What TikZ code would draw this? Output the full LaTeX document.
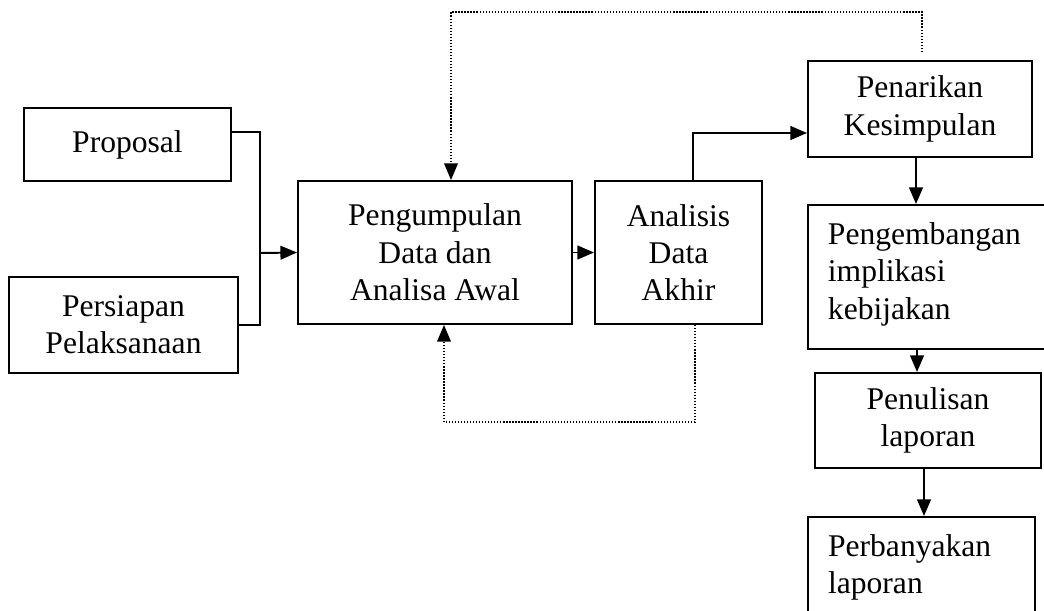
\documentclass[tikz,border=0pt]{standalone}
\usepackage{fontspec}
\setmainfont{Liberation Serif}
\usetikzlibrary{arrows.meta}

\begin{document}
\begin{tikzpicture}[x=0.38pt,y=0.38pt,
  box/.style={draw,line width=0.75pt,align=center,inner sep=0pt,font=\fontsize{12pt}{14.2pt}\selectfont},
  link/.style={line width=0.75pt},
  arr/.style={line width=0.75pt,-{Triangle[length=6.3pt,width=5.2pt]}},
  back/.style={line width=0.5pt,dash pattern=on 0.5pt off 0.65pt,-{Triangle[length=6.3pt,width=5.2pt]}}]
\def\px{0.38pt}
\useasboundingbox (0,0) rectangle (1044,610);
\clip (0,0) rectangle (1044,610);

\node[box,minimum width=207*\px,minimum height=73*\px] (pro) at (127.5,465.5) {Proposal};
\node[box,minimum width=229*\px,minimum height=96*\px] (per) at (123.5,285) {Persiapan\\Pelaksanaan};
\node[box,minimum width=274*\px,minimum height=143*\px] (dat) at (435,357.5) {Pengumpulan\\Data dan\\Analisa Awal};
\node[box,minimum width=167*\px,minimum height=143*\px] (ana) at (678.5,357.5) {Analisis\\Data\\Akhir};
\node[box,minimum width=224*\px,minimum height=96*\px] (kes) at (920,501) {Penarikan\\Kesimpulan};
\node[box,minimum width=242*\px,minimum height=144*\px] (dev) at (929,333)
  {\parbox[c][41.5pt][t]{76.8pt}{Pengembangan\\implikasi\\kebijakan}};
\node[box,minimum width=226*\px,minimum height=95*\px] (tul) at (928,189.5) {Penulisan\\laporan};
\node[box,minimum width=227*\px,minimum height=123*\px] (bny) at (921.5,31.5)
  {\parbox[c][33.5pt][t]{71pt}{Perbanyakan\\laporan}};

\coordinate (join) at (260,357);
\draw[link] ([yshift=12.5*\px]pro.east) -| (join) |- (per.east);
\draw[arr] (join) -- (dat.west);
\draw[arr] (dat.east) -- (ana.west);
\draw[arr] ([xshift=14.5*\px]ana.north) |- ([yshift=-24*\px]kes.west);
\draw[arr] ([xshift=-4*\px]kes.south) -- ([xshift=-13*\px]dev.north);
\draw[arr] ([xshift=-12*\px]dev.south) -- ([xshift=-11*\px]tul.north);
\draw[arr] ([xshift=-4*\px]tul.south) -- ([xshift=2.5*\px]bny.north);

\draw[back] ([shift={(2*\px,8*\px)}]kes.north) -- ++(0,40) -| ([xshift=16*\px]dat.north);
\draw[back] ([xshift=16.5*\px]ana.south) -- ++(0,-97) -| ([xshift=9*\px]dat.south);
\end{tikzpicture}
\end{document}
